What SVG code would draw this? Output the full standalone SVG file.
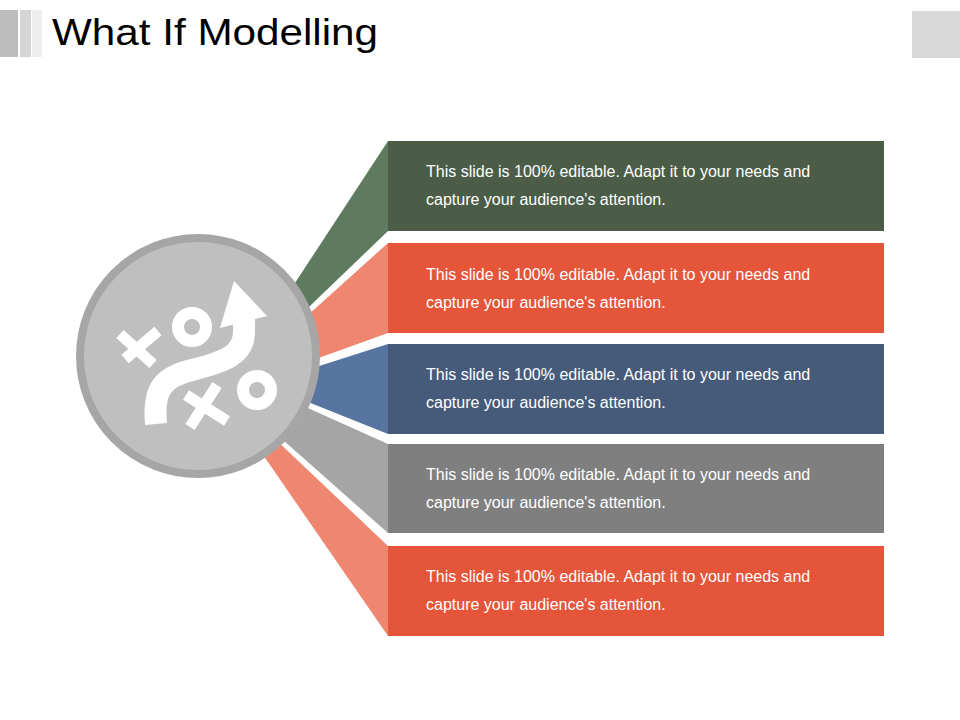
<svg xmlns="http://www.w3.org/2000/svg" width="960" height="720" viewBox="0 0 960 720">
<style>
.t{font-family:"Liberation Sans",Arial,sans-serif;font-size:16px;fill:#ffffff}
.title{font-family:"Liberation Sans",Arial,sans-serif;font-size:37px;fill:#000000}
.ic{stroke:#ffffff;fill:none;stroke-width:11}
.ring{stroke:#ffffff;fill:none;stroke-width:12}
</style>
<rect width="960" height="720" fill="#ffffff"/>
<g id="header">
<rect x="0" y="10" width="18" height="47" fill="#bdbdbd"/>
<rect x="20" y="10" width="11" height="47" fill="#d5d5d5"/>
<rect x="32" y="10" width="10" height="47" fill="#eeeeee"/>
<rect x="912" y="11" width="48" height="47" fill="#d9d9d9"/>
<text class="title" x="52" y="45" textLength="326" lengthAdjust="spacingAndGlyphs">What If Modelling</text>
</g>
<g id="connectors">
<polygon points="388,141 388,231 250,363.5 250,351.6" fill="#5f7b5f"/>
<polygon points="388,243 388,333 270,375.5 270,349.2" fill="#ee8670"/>
<polygon points="388,344 388,434 280,390.8 280,378.6" fill="#5874a0"/>
<polygon points="388,444 388,533 270,428.6 270,390.9" fill="#a5a5a5"/>
<polygon points="388,546 388,636 250,436 250,415.3" fill="#ee8670"/>
</g>
<g id="hub">
<circle cx="198" cy="356" r="118" fill="#bfbfbf" stroke="#a6a6a6" stroke-width="8"/>
<path class="ic" d="M120,334 L153,364 M158,331 L125,359"/>
<path class="ic" d="M186,395 L227,421 M217,385 L190,427"/>
<circle class="ring" cx="192" cy="327" r="14"/>
<circle class="ring" cx="257" cy="390" r="14"/>
<path d="M156,424 C153,390 162,377 192,370 C224,362 245,355 244,330 L244,318" stroke="#ffffff" stroke-width="22" fill="none"/>
<polygon points="234,281 220,328 267,316" fill="#ffffff"/>
</g>
<g id="box1">
<rect x="388" y="141" width="496" height="90" fill="#4b5d47"/>
<text class="t" x="426" y="177">This slide is 100% editable. Adapt it to your needs and</text>
<text class="t" x="426" y="205">capture your audience's attention.</text>
</g>
<g id="box2">
<rect x="388" y="243" width="496" height="90" fill="#e4553a"/>
<text class="t" x="426" y="280">This slide is 100% editable. Adapt it to your needs and</text>
<text class="t" x="426" y="308">capture your audience's attention.</text>
</g>
<g id="box3">
<rect x="388" y="344" width="496" height="90" fill="#465a79"/>
<text class="t" x="426" y="380">This slide is 100% editable. Adapt it to your needs and</text>
<text class="t" x="426" y="408">capture your audience's attention.</text>
</g>
<g id="box4">
<rect x="388" y="444" width="496" height="89" fill="#7f7f7f"/>
<text class="t" x="426" y="480">This slide is 100% editable. Adapt it to your needs and</text>
<text class="t" x="426" y="508">capture your audience's attention.</text>
</g>
<g id="box5">
<rect x="388" y="546" width="496" height="90" fill="#e4553a"/>
<text class="t" x="426" y="582">This slide is 100% editable. Adapt it to your needs and</text>
<text class="t" x="426" y="610">capture your audience's attention.</text>
</g>
</svg>
